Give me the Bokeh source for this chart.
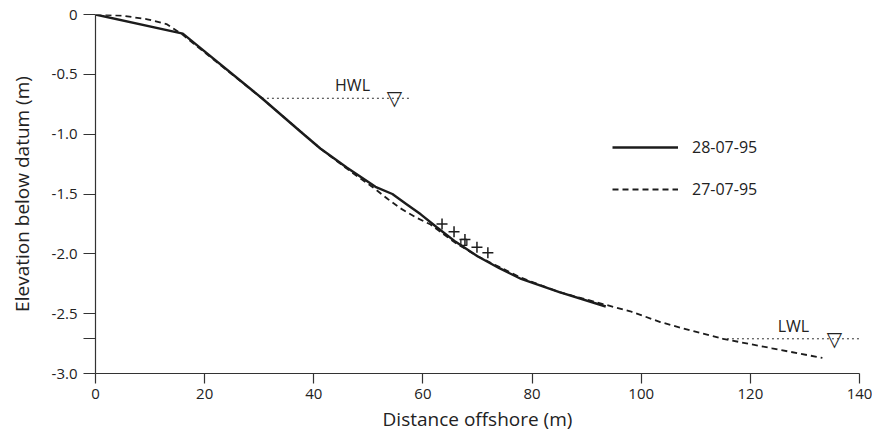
from bokeh.plotting import figure
from bokeh.models import FixedTicker, Legend, LegendItem, Range1d
from bokeh.core.properties import value
from bokeh.embed import file_html
from bokeh.resources import INLINE

# ---- data ----
dist_2807 = [0, 16, 30.5, 37.6, 41.2, 46.1, 51.3, 54.4, 57, 59.6, 62.6, 66, 70, 74, 78, 85, 93.5]
elev_2807 = [0, -0.16, -0.70, -0.98, -1.12, -1.28, -1.44, -1.50, -1.585, -1.67, -1.78, -1.90, -2.02, -2.12, -2.21, -2.32, -2.44]

dist_2707 = [0, 5, 9.5, 13, 16, 30.5, 41.2, 46.1, 51.3, 53.5, 55.9, 58.9, 61.4, 63, 66, 70, 78, 85, 93, 98, 103.5, 109, 115, 124, 133.2]
elev_2707 = [0, -0.01, -0.04, -0.08, -0.17, -0.70, -1.12, -1.29, -1.46, -1.54, -1.62, -1.70, -1.755, -1.81, -1.91, -2.02, -2.20, -2.32, -2.42, -2.48, -2.57, -2.64, -2.71, -2.79, -2.87]

cross_x = [63.5, 65.7, 67.7, 69.9, 71.9]
cross_y = [-1.75, -1.815, -1.88, -1.945, -1.99]
square_x = [67.5]
square_y = [-1.905]

hwl_level = -0.70
hwl_line_x = [30.5, 57.6]
hwl_label_x = 47.1
hwl_symbol_x = 54.8

lwl_level = -2.71
lwl_line_x = [114.8, 140]
lwl_label_x = 127.9
lwl_symbol_x = 135.4

x_ticks = [0, 20, 40, 60, 80, 100, 120, 140]
y_ticks = [0, -0.5, -1.0, -1.5, -2.0, -2.5, -3.0]
y_tick_labels = ["0", "-0.5", "-1.0", "-1.5", "-2.0", "-2.5", "-3.0"]

series_labels = ["28-07-95", "27-07-95"]

FONT = "Open Sans"
INK = "#1c1c1c"
AX = "#333333"

p = figure(width=872, height=434, output_backend="svg", toolbar_location=None,
           x_range=Range1d(0, 140), y_range=Range1d(-3.0, 0),
           min_border_left=95, min_border_right=13, min_border_top=14, min_border_bottom=30)
p.outline_line_color = None
p.xgrid.grid_line_color = None
p.ygrid.grid_line_color = None
p.background_fill_color = "white"

p.xaxis.ticker = FixedTicker(ticks=x_ticks)
p.yaxis.ticker = FixedTicker(ticks=y_ticks + [lwl_level])
overrides = {t: l for t, l in zip(y_ticks, y_tick_labels)}
overrides[lwl_level] = ""
p.yaxis.major_label_overrides = overrides

p.xaxis.axis_label = "Distance offshore (m)"
p.yaxis.axis_label = "Elevation below datum (m)"

for ax in (p.xaxis[0], p.yaxis[0]):
    ax.axis_line_color = AX
    ax.axis_line_width = 1.2
    ax.major_tick_line_color = AX
    ax.major_tick_line_width = 1.2
    ax.major_tick_in = 0
    ax.minor_tick_line_color = None
    ax.major_label_text_font = FONT
    ax.major_label_text_font_size = "15px"
    ax.major_label_text_color = "#222222"
    ax.axis_label_text_font = FONT
    ax.axis_label_text_font_size = "19px"
    ax.axis_label_text_font_style = "normal"
    ax.axis_label_text_color = "#222222"
p.xaxis.major_tick_out = 10
p.yaxis.major_tick_out = 12
p.xaxis.major_label_standoff = 5
p.yaxis.major_label_standoff = 6
p.xaxis.axis_label_standoff = 4
p.yaxis.axis_label_standoff = 14

# water levels
p.line(hwl_line_x, [hwl_level, hwl_level], line_color=AX, line_width=1, line_dash="2 3")
p.line(lwl_line_x, [lwl_level, lwl_level], line_color=AX, line_width=1, line_dash="2 3")
p.text(x=[hwl_label_x, lwl_label_x], y=[hwl_level, lwl_level], text=["HWL", "LWL"],
       text_align="center", text_baseline="bottom", y_offset=-2,
       text_font=value(FONT), text_font_size="16px", text_color="#222222")
p.text(x=[hwl_symbol_x, lwl_symbol_x], y=[hwl_level, lwl_level], text=["\u25BD", "\u25BD"],
       text_align="center", text_baseline="alphabetic", y_offset=0,
       text_font=value("DejaVu Sans"), text_font_size="20px", text_color="#222222")

# profiles
r1 = p.line(dist_2807, elev_2807, line_color=INK, line_width=2.4)
r2 = p.line(dist_2707, elev_2707, line_color=INK, line_width=1.8, line_dash="6 4")

p.scatter(cross_x, cross_y, marker="cross", size=11, line_color=INK, line_width=1.5)
p.scatter(square_x, square_y, marker="square", size=6, line_color=INK, line_width=1.3, fill_alpha=0)

legend = Legend(items=[LegendItem(label=series_labels[0], renderers=[r1]),
                       LegendItem(label=series_labels[1], renderers=[r2])],
                location=(517, 173), glyph_width=66, glyph_height=20, label_height=20,
                spacing=20, padding=0, margin=0, label_standoff=14,
                border_line_alpha=0, background_fill_alpha=0,
                label_text_font=FONT, label_text_font_size="16px", label_text_color="#222222")
p.add_layout(legend)

open("out.html", "w").write(file_html(p, INLINE))
